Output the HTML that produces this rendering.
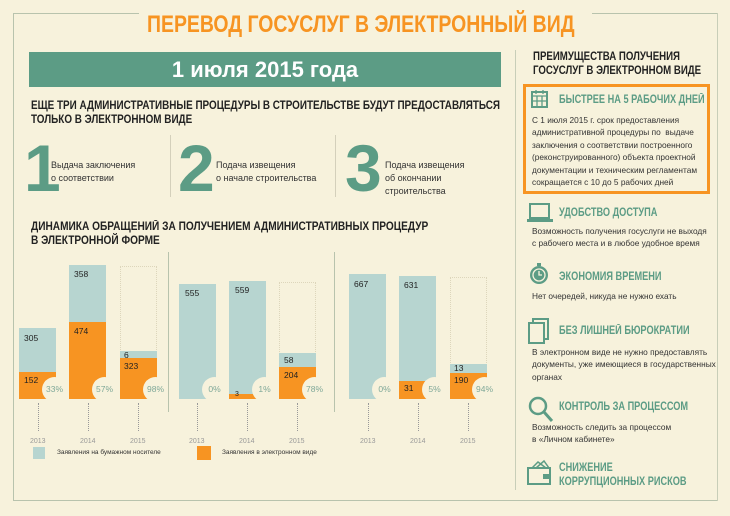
<!DOCTYPE html>
<html><head><meta charset="utf-8"><style>
*{margin:0;padding:0;box-sizing:border-box}
body{width:730px;height:516px;background:#f7f2dc;font-family:"Liberation Sans","DejaVu Sans",sans-serif;position:relative;overflow:hidden;color:#2a2a2a}
.a{position:absolute;white-space:nowrap;transform-origin:0 0}
.h{font-weight:bold;font-size:11.5px;line-height:14px;color:#222}
.g{color:#5c9c85;font-weight:bold;font-size:11.5px;transform:scaleX(0.8)}
.t{font-size:8.3px;line-height:12.4px;color:#333}
.num{font-size:66px;color:#5c9c85;font-weight:bold;line-height:60px}
.bl{background:#b7d5d0}
.or{background:#f79422}
.lab{font-size:8.5px;color:#222}
.c{position:absolute;width:25px;height:25px;border-radius:50%;background:#f7f2dc;font-size:8.5px;color:#7fa898;text-align:center;line-height:25px}
.dl{position:absolute;border-left:1px dotted #999;width:0;height:28px;top:403px}
.yr{position:absolute;font-size:7px;color:#999;top:438px}
.ol{position:absolute;border:1px dotted #ddd6bb}
</style></head><body>
<div class="a" style="left:13px;top:13px;width:126px;height:1px;background:#b8c3ad"></div>
<div class="a" style="left:592px;top:13px;width:126px;height:1px;background:#b8c3ad"></div>
<div class="a" style="left:13px;top:13px;width:1px;height:488px;background:#b8c3ad"></div>
<div class="a" style="left:13px;top:500px;width:705px;height:1px;background:#b8c3ad"></div>
<div class="a" style="left:717px;top:13px;width:1px;height:488px;background:#c8ceb8"></div>
<div class="a" style="left:515px;top:50px;width:1px;height:440px;background:#c8ceb8"></div>

<div class="a" style="left:147px;top:11px;font-size:24px;font-weight:bold;color:#f79422;transform:scaleX(0.81)">ПЕРЕВОД ГОСУСЛУГ В ЭЛЕКТРОННЫЙ ВИД</div>
<div class="a" style="left:29px;top:52px;width:472px;height:35px;background:#5c9c85;color:#fff;font-size:22px;font-weight:bold;text-align:center;line-height:35px">1 июля 2015 года</div>
<div class="a h" style="left:31px;top:99px;transform:scaleX(0.86)">ЕЩЕ ТРИ АДМИНИСТРАТИВНЫЕ ПРОЦЕДУРЫ В СТРОИТЕЛЬСТВЕ БУДУТ ПРЕДОСТАВЛЯТЬСЯ<br>ТОЛЬКО В ЭЛЕКТРОННОМ ВИДЕ</div>

<div class="a num" style="left:24px;top:138px">1</div>
<div class="a t" style="left:51px;top:159px;font-size:9px;line-height:13px">Выдача заключения<br>о соответствии</div>
<div class="a" style="left:170px;top:135px;width:1px;height:62px;background:#d4d0bb"></div>
<div class="a num" style="left:178px;top:138px">2</div>
<div class="a t" style="left:216px;top:159px;font-size:9px;line-height:13px">Подача извещения<br>о начале строительства</div>
<div class="a" style="left:335px;top:135px;width:1px;height:62px;background:#d4d0bb"></div>
<div class="a num" style="left:345px;top:138px">3</div>
<div class="a t" style="left:385px;top:159px;font-size:9px;line-height:13px">Подача извещения<br>об окончании<br>строительства</div>

<div class="a h" style="left:31px;top:220px;transform:scaleX(0.88)">ДИНАМИКА ОБРАЩЕНИЙ ЗА ПОЛУЧЕНИЕМ АДМИНИСТРАТИВНЫХ ПРОЦЕДУР<br>В ЭЛЕКТРОННОЙ ФОРМЕ</div>
<div class="a" style="left:168px;top:252px;width:1px;height:160px;background:#b8c3ad"></div>
<div class="a" style="left:334px;top:252px;width:1px;height:160px;background:#b8c3ad"></div>

<div class="a bl" style="left:19px;top:328px;width:37px;height:44px"></div>
<div class="a or" style="left:19px;top:372px;width:37px;height:27px"></div>
<div class="a lab" style="left:24px;top:333px">305</div><div class="a lab" style="left:24px;top:375px">152</div>
<div class="a bl" style="left:69px;top:265px;width:37px;height:57px"></div>
<div class="a or" style="left:69px;top:322px;width:37px;height:77px"></div>
<div class="a lab" style="left:74px;top:269px">358</div><div class="a lab" style="left:74px;top:326px">474</div>
<div class="ol" style="left:120px;top:266px;width:37px;height:86px"></div>
<div class="a bl" style="left:120px;top:351px;width:37px;height:7px"></div>
<div class="a or" style="left:120px;top:358px;width:37px;height:41px"></div>
<div class="a lab" style="left:124px;top:350px">6</div><div class="a lab" style="left:124px;top:361px">323</div>
<div class="c" style="left:42px;top:377px">33%</div><div class="c" style="left:92px;top:377px">57%</div><div class="c" style="left:143px;top:377px">98%</div>
<div class="a bl" style="left:179px;top:284px;width:37px;height:115px"></div>
<div class="a lab" style="left:185px;top:288px">555</div>
<div class="a bl" style="left:229px;top:281px;width:37px;height:113px"></div>
<div class="a or" style="left:229px;top:394px;width:37px;height:5px"></div>
<div class="a lab" style="left:235px;top:285px">559</div><div class="a lab" style="left:235px;top:391px;font-size:7px">3</div>
<div class="ol" style="left:279px;top:282px;width:37px;height:72px"></div>
<div class="a bl" style="left:279px;top:353px;width:37px;height:14px"></div>
<div class="a or" style="left:279px;top:367px;width:37px;height:32px"></div>
<div class="a lab" style="left:284px;top:355px">58</div><div class="a lab" style="left:284px;top:370px">204</div>
<div class="c" style="left:202px;top:377px">0%</div><div class="c" style="left:252px;top:377px">1%</div><div class="c" style="left:302px;top:377px">78%</div>
<div class="a bl" style="left:349px;top:274px;width:37px;height:125px"></div>
<div class="a lab" style="left:354px;top:279px">667</div>
<div class="a bl" style="left:399px;top:276px;width:37px;height:105px"></div>
<div class="a or" style="left:399px;top:381px;width:37px;height:18px"></div>
<div class="a lab" style="left:404px;top:280px">631</div><div class="a lab" style="left:404px;top:383px">31</div>
<div class="ol" style="left:450px;top:277px;width:37px;height:88px"></div>
<div class="a bl" style="left:450px;top:364px;width:37px;height:9px"></div>
<div class="a or" style="left:450px;top:373px;width:37px;height:26px"></div>
<div class="a lab" style="left:454px;top:363px">13</div><div class="a lab" style="left:454px;top:375px">190</div>
<div class="c" style="left:372px;top:377px">0%</div><div class="c" style="left:422px;top:377px">5%</div><div class="c" style="left:472px;top:377px">94%</div>

<div class="dl" style="left:38px"></div><div class="dl" style="left:88px"></div><div class="dl" style="left:138px"></div>
<div class="dl" style="left:197px"></div><div class="dl" style="left:247px"></div><div class="dl" style="left:297px"></div>
<div class="dl" style="left:368px"></div><div class="dl" style="left:418px"></div><div class="dl" style="left:468px"></div>
<div class="yr" style="left:30px">2013</div><div class="yr" style="left:80px">2014</div><div class="yr" style="left:130px">2015</div>
<div class="yr" style="left:189px">2013</div><div class="yr" style="left:239px">2014</div><div class="yr" style="left:289px">2015</div>
<div class="yr" style="left:360px">2013</div><div class="yr" style="left:410px">2014</div><div class="yr" style="left:460px">2015</div>

<div class="a bl" style="left:33px;top:447px;width:12px;height:12px"></div>
<div class="a" style="left:57px;top:449px;font-size:6.5px;color:#333">Заявления на бумажном носителе</div>
<div class="a or" style="left:197px;top:446px;width:14px;height:14px"></div>
<div class="a" style="left:222px;top:449px;font-size:6.5px;color:#333">Заявления в электронном виде</div>

<div class="a h" style="left:533px;top:50px;font-size:11.5px;transform:scaleX(0.84)">ПРЕИМУЩЕСТВА ПОЛУЧЕНИЯ<br>ГОСУСЛУГ В ЭЛЕКТРОННОМ ВИДЕ</div>
<div class="a" style="left:523px;top:84px;width:187px;height:110px;border:3px solid #f79422"></div>
<svg class="a" style="left:531px;top:89px" width="18" height="20"><rect x="1" y="3" width="15" height="15" fill="none" stroke="#5c9c85" stroke-width="2"/><path d="M1 7h15M6 7v11M11 7v11M1 12h15M5 1v4M12 1v4" stroke="#5c9c85" stroke-width="1.3"/></svg>
<div class="a g" style="left:559px;top:94px">БЫСТРЕЕ НА 5 РАБОЧИХ ДНЕЙ</div>
<div class="a t" style="left:532px;top:114px">С 1 июля 2015 г. срок предоставления<br>административной процедуры по&nbsp; выдаче<br>заключения о соответствии построенного<br>(реконструированного) объекта проектной<br>документации и техническим регламентам<br>сокращается с 10 до 5 рабочих дней</div>

<svg class="a" style="left:527px;top:203px" width="26" height="20"><rect x="3" y="1" width="19" height="14" fill="none" stroke="#5c9c85" stroke-width="2"/><rect x="0" y="16" width="26" height="3" fill="#5c9c85"/></svg>
<div class="a g" style="left:559px;top:207px">УДОБСТВО ДОСТУПА</div>
<div class="a t" style="left:532px;top:225px">Возможность получения госуслуги не выходя<br>с рабочего места и в любое удобное время</div>

<svg class="a" style="left:529px;top:263px" width="20" height="22"><circle cx="10" cy="12" r="9" fill="#5c9c85"/><circle cx="10" cy="12" r="6" fill="none" stroke="#f7f2dc" stroke-width="1.3"/><path d="M10 8v4h3" stroke="#f7f2dc" stroke-width="1.3" fill="none"/><rect x="8" y="0" width="4" height="3" fill="#5c9c85"/></svg>
<div class="a g" style="left:559px;top:271px">ЭКОНОМИЯ ВРЕМЕНИ</div>
<div class="a t" style="left:532px;top:290px">Нет очередей, никуда не нужно ехать</div>

<svg class="a" style="left:528px;top:318px" width="22" height="26"><rect x="5" y="1" width="15" height="20" fill="none" stroke="#5c9c85" stroke-width="2"/><rect x="1" y="5" width="15" height="20" fill="#f7f2dc" stroke="#5c9c85" stroke-width="2"/></svg>
<div class="a g" style="left:559px;top:325px">БЕЗ ЛИШНЕЙ БЮРОКРАТИИ</div>
<div class="a t" style="left:532px;top:346px">В электронном виде не нужно предоставлять<br>документы, уже имеющиеся в государственных<br>органах</div>

<svg class="a" style="left:528px;top:396px" width="26" height="28"><circle cx="10" cy="10" r="8" fill="none" stroke="#5c9c85" stroke-width="2.5"/><path d="M16 16l8 9" stroke="#5c9c85" stroke-width="3"/></svg>
<div class="a g" style="left:559px;top:401px">КОНТРОЛЬ ЗА ПРОЦЕССОМ</div>
<div class="a t" style="left:532px;top:421px">Возможность следить за процессом<br>в «Личном кабинете»</div>

<svg class="a" style="left:527px;top:459px" width="26" height="28"><rect x="1" y="9" width="22" height="16" fill="none" stroke="#5c9c85" stroke-width="2"/><path d="M5 9l6-6 8 6M9 9l8-7 5 7" stroke="#5c9c85" stroke-width="1.5" fill="none"/><rect x="16" y="15" width="7" height="5" fill="#5c9c85"/></svg>
<div class="a g" style="left:559px;top:461px;line-height:14px">СНИЖЕНИЕ<br>КОРРУПЦИОННЫХ РИСКОВ</div>
</body></html>
